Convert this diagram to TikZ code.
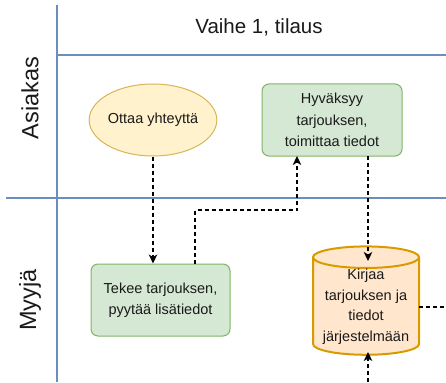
\documentclass[tikz,border=0pt]{standalone}
\usepackage{fontspec}
\setmainfont{Liberation Sans}
\usetikzlibrary{arrows.meta,shapes.geometric}
\definecolor{lane}{HTML}{6C8EBF}
\definecolor{yfill}{HTML}{FFF2CC}
\definecolor{ydraw}{HTML}{D6B656}
\definecolor{gfill}{HTML}{D5E8D4}
\definecolor{gdraw}{HTML}{82B366}
\definecolor{ofill}{HTML}{FFE6CC}
\definecolor{odraw}{HTML}{D79B00}
\definecolor{ink}{HTML}{1A1A1A}
\tikzset{
  lanerule/.style={draw=lane, line width=1.3pt},
  lanetitle/.style={font=\fontsize{23.5}{26}\selectfont, rotate=90},
  task/.style={draw=gdraw, fill=gfill, line width=1pt, rounded corners=7pt,
    align=center, font=\fontsize{14.5}{21.5}\selectfont, inner sep=0pt},
  dashline/.style={dash pattern=on 4pt off 3pt, line width=1.2pt},
  flow/.style={dashline, -{Stealth[length=9pt,width=8.5pt,inset=2.5pt]}},
}
\begin{document}
\begin{tikzpicture}[x=1pt,y=-1pt, every node/.style={text=ink}]
  \useasboundingbox (0,0) rectangle (446,382);
  % swimlane frame
  \draw[lanerule] (57,5) -- (57,382);
  \draw[lanerule] (57,55) -- (446,55);
  \draw[lanerule] (6,198) -- (446,198);
  \node (title) at (259,27) {\fontsize{20.5}{24}\selectfont Vaihe 1, tilaus};
  \node[lanetitle] (laneA) at (30,98) {Asiakas};
  \node[lanetitle] (laneB) at (30,300) {Myyjä};
  % process steps
  \node[ellipse, draw=ydraw, fill=yfill, line width=1pt, minimum width=124pt,
    minimum height=72pt, inner sep=0pt, font=\fontsize{14.5}{17}\selectfont]
    (contact) at (153,120) {Ottaa yhteyttä};
  \node[task, minimum width=140pt, minimum height=72pt] (accept) at (332,120)
    {Hyväksyy\\tarjouksen,\\toimittaa tiedot};
  \node[task, minimum width=139pt, minimum height=72pt] (offer) at (160.5,300)
    {Tekee tarjouksen,\\pyytää lisätiedot};
  \node[cylinder, shape border rotate=90, aspect=0.25, draw=odraw, fill=ofill,
    line width=2pt, minimum width=106pt, minimum height=91pt, inner sep=0pt,
    align=center, font=\fontsize{14.5}{20.5}\selectfont]
    (record) at (366,306.5) {Kirjaa\\tarjouksen ja\\tiedot\\järjestelmään};
  \coordinate (outR) at (446,307);
  \coordinate (inB) at (368,382);
  % flows
  \draw[flow] (contact.south) -- (offer.north -| contact.south);
  \draw[flow] ([xshift=34.5pt]offer.north) |- (297,210) -- (297,156);
  \draw[flow] (368,156) -- (368,261);
  \draw[dashline] (419,307) -- (outR);
  \draw[flow] (inB) -- (368,352);
\end{tikzpicture}
\end{document}
